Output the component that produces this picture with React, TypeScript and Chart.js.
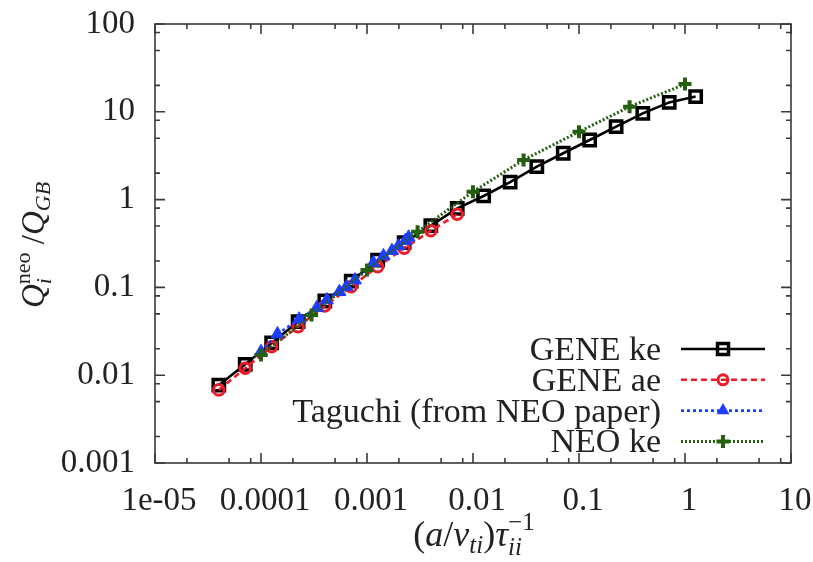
import React, { useEffect, useRef } from "react";
import { Chart, registerables } from "chart.js";
Chart.register(...registerables);

// ---- axis ticks ----
const X_MAJOR = [1e-5, 1e-4, 1e-3, 1e-2, 1e-1, 1, 10];
const X_TICK_LABELS = ["1e-05", "0.0001", "0.001", "0.01", "0.1", "1", "10"];
const Y_MAJOR = [1e-3, 1e-2, 1e-1, 1, 10, 100];
const Y_TICK_LABELS = ["0.001", "0.01", "0.1", "1", "10", "100"];
const MINOR_MULT = [2, 5, 8];

// ---- data ----
const geneKeX = [4e-5, 7.1e-5, 1.26e-4, 2.24e-4, 4e-4, 7.1e-4, 1.26e-3, 2.24e-3, 4e-3, 7.1e-3, 0.0126, 0.0224, 0.04, 0.071, 0.126, 0.224, 0.4, 0.71, 1.26];
const geneKeY = [0.0077, 0.0133, 0.0233, 0.0407, 0.07, 0.118, 0.204, 0.323, 0.505, 0.796, 1.1, 1.585, 2.37, 3.37, 4.77, 6.77, 9.6, 12.8, 14.9];

const geneAeX = [4e-5, 7.1e-5, 1.26e-4, 2.24e-4, 4e-4, 7.1e-4, 1.26e-3, 2.24e-3, 4e-3, 7.1e-3];
const geneAeY = [0.0068, 0.012, 0.0211, 0.0357, 0.0614, 0.102, 0.172, 0.279, 0.442, 0.68];

const taguchiX = [1e-4, 1.43e-4, 2.29e-4, 3.36e-4, 4.18e-4, 5.5e-4, 6.4e-4, 7.7e-4, 1.15e-3, 1.43e-3, 1.72e-3, 1.98e-3, 2.3e-3, 2.47e-3];
const taguchiY = [0.0185, 0.0295, 0.0434, 0.0587, 0.0718, 0.0893, 0.102, 0.121, 0.191, 0.228, 0.262, 0.296, 0.34, 0.372];

const neoKeX = [1e-4, 3e-4, 1e-3, 3e-3, 0.01, 0.03, 0.1, 0.3, 1];
const neoKeY = [0.017, 0.0485, 0.158, 0.431, 1.23, 2.83, 5.93, 11.4, 20.7];

const SERIES_LABELS = ["GENE ke", "GENE ae", "Taguchi (from NEO paper)", "NEO ke"];

const FONT = '"Liberation Serif", "Times New Roman", serif';
const BLACK = "#000000";
const RED = "#ec1c28";
const BLUE = "#1f3dff";
const GREEN = "#24600f";

const pts = (xs: number[], ys: number[]) => xs.map((x, i) => ({ x, y: ys[i] }));

type MItem = { t: string; it?: boolean; s: number; dy?: number; stack?: boolean };

function layoutMath(ctx: CanvasRenderingContext2D, items: MItem[]) {
  let x = 0;
  let prevStart = 0;
  let prevWidth = 0;
  const placed: (MItem & { x: number })[] = [];
  for (const it of items) {
    ctx.font = `${it.it ? "italic " : ""}${it.s}px ${FONT}`;
    const w = ctx.measureText(it.t).width;
    let start: number;
    if (it.stack) {
      start = prevStart;
      prevWidth = Math.max(prevWidth, w);
      x = prevStart + prevWidth;
    } else {
      start = x;
      x += w;
      prevStart = start;
      prevWidth = w;
    }
    placed.push({ ...it, x: start });
  }
  return { placed, width: x };
}

function drawMath(ctx: CanvasRenderingContext2D, items: MItem[], cx: number, baseline: number) {
  const { placed, width } = layoutMath(ctx, items);
  const x0 = cx - width / 2;
  ctx.fillStyle = "#222";
  ctx.textAlign = "left";
  ctx.textBaseline = "alphabetic";
  for (const p of placed) {
    ctx.font = `${p.it ? "italic " : ""}${p.s}px ${FONT}`;
    ctx.fillText(p.t, x0 + p.x, baseline + (p.dy || 0));
  }
}

function drawMarker(ctx: CanvasRenderingContext2D, style: string, x: number, y: number, color: string) {
  ctx.save();
  ctx.setLineDash([]);
  ctx.strokeStyle = color;
  ctx.fillStyle = color;
  if (style === "rect") {
    ctx.lineWidth = 3.5;
    ctx.strokeRect(x - 5.5, y - 5.5, 11, 11);
  } else if (style === "circle") {
    ctx.lineWidth = 3;
    ctx.beginPath();
    ctx.arc(x, y, 5, 0, Math.PI * 2);
    ctx.stroke();
  } else if (style === "triangle") {
    const r = 7.5;
    ctx.beginPath();
    ctx.moveTo(x, y - r);
    ctx.lineTo(x + r * 0.866, y + r * 0.5);
    ctx.lineTo(x - r * 0.866, y + r * 0.5);
    ctx.closePath();
    ctx.fill();
  } else if (style === "cross") {
    ctx.lineWidth = 4;
    ctx.beginPath();
    ctx.moveTo(x - 6.5, y);
    ctx.lineTo(x + 6.5, y);
    ctx.moveTo(x, y - 6.5);
    ctx.lineTo(x, y + 6.5);
    ctx.stroke();
  }
  ctx.restore();
}

const decoPlugin = {
  id: "deco",
  afterDraw(chart: any) {
    const ctx: CanvasRenderingContext2D = chart.ctx;
    const { left, right, top, bottom } = chart.chartArea;
    const xs = chart.scales.x;
    const ys = chart.scales.y;
    ctx.save();
    // frame
    ctx.strokeStyle = "#3a3a3a";
    ctx.lineWidth = 1.6;
    ctx.setLineDash([]);
    ctx.strokeRect(left, top, right - left, bottom - top);
    // ticks
    const tick = (isX: boolean, v: number, len: number) => {
      if (isX) {
        const p = xs.getPixelForValue(v);
        ctx.beginPath();
        ctx.moveTo(p, bottom);
        ctx.lineTo(p, bottom - len);
        ctx.moveTo(p, top);
        ctx.lineTo(p, top + len);
        ctx.stroke();
      } else {
        const p = ys.getPixelForValue(v);
        ctx.beginPath();
        ctx.moveTo(left, p);
        ctx.lineTo(left + len, p);
        ctx.moveTo(right, p);
        ctx.lineTo(right - len, p);
        ctx.stroke();
      }
    };
    X_MAJOR.forEach((v, i) => {
      tick(true, v, 10);
      if (i < X_MAJOR.length - 1) MINOR_MULT.forEach((m) => tick(true, v * m, 5));
    });
    Y_MAJOR.forEach((v, i) => {
      tick(false, v, 10);
      if (i < Y_MAJOR.length - 1) MINOR_MULT.forEach((m) => tick(false, v * m, 5));
    });

    // legend
    const rowY0 = 349;
    const rowStep = 30.8;
    chart.data.datasets.forEach((ds: any, i: number) => {
      const y = rowY0 + i * rowStep;
      ctx.font = `34px ${FONT}`;
      ctx.fillStyle = "#222";
      ctx.textAlign = "right";
      ctx.textBaseline = "middle";
      ctx.fillText(SERIES_LABELS[i], 661, y + 2);
      ctx.strokeStyle = ds.borderColor;
      ctx.lineWidth = ds.borderWidth;
      ctx.setLineDash(ds.borderDash || []);
      ctx.beginPath();
      ctx.moveTo(681, y);
      ctx.lineTo(765, y);
      ctx.stroke();
      drawMarker(ctx, ds.pointStyle, 723, y, ds.borderColor);
    });

    // x title
    ctx.setLineDash([]);
    drawMath(
      ctx,
      [
        { t: "(", s: 36 },
        { t: "a", it: true, s: 36 },
        { t: "/", s: 36 },
        { t: "v", it: true, s: 36 },
        { t: "ti", it: true, s: 25, dy: 7 },
        { t: ")", s: 36 },
        { t: "τ", it: true, s: 36 },
        { t: "−1", s: 25, dy: -16 },
        { t: "ii", it: true, s: 25, dy: 9, stack: true },
      ],
      474,
      546
    );
    // y title
    ctx.save();
    ctx.translate(44, 245);
    ctx.rotate(-Math.PI / 2);
    drawMath(
      ctx,
      [
        { t: "Q", it: true, s: 33 },
        { t: "neo", s: 22, dy: -14 },
        { t: "i", it: true, s: 22, dy: 7, stack: true },
        { t: " /", s: 33 },
        { t: "Q", it: true, s: 33 },
        { t: "GB", it: true, s: 22, dy: 6 },
      ],
      0,
      0
    );
    ctx.restore();
    ctx.restore();
  },
};

export default function App() {
  const ref = useRef<HTMLCanvasElement | null>(null);
  useEffect(() => {
    if (!ref.current) return;
    const chart = new Chart(ref.current, {
      type: "line",
      data: {
        datasets: [
          {
            label: SERIES_LABELS[0],
            data: pts(geneKeX, geneKeY),
            borderColor: BLACK,
            borderWidth: 2.6,
            pointStyle: "rect",
            pointRadius: 8,
            pointBorderWidth: 3.5,
            pointBackgroundColor: "rgba(0,0,0,0)",
            pointBorderColor: BLACK,
            order: 4,
          },
          {
            label: SERIES_LABELS[1],
            data: pts(geneAeX, geneAeY),
            borderColor: RED,
            borderWidth: 2.6,
            borderDash: [6, 4],
            pointStyle: "circle",
            pointRadius: 5.3,
            pointBorderWidth: 3,
            pointBackgroundColor: "rgba(0,0,0,0)",
            pointBorderColor: RED,
            order: 3,
          },
          {
            label: SERIES_LABELS[2],
            data: pts(taguchiX, taguchiY),
            borderColor: BLUE,
            borderWidth: 2.6,
            borderDash: [3, 3],
            pointStyle: "triangle",
            pointRadius: 7.5,
            pointBorderWidth: 1,
            pointBackgroundColor: BLUE,
            pointBorderColor: BLUE,
            order: 2,
          },
          {
            label: SERIES_LABELS[3],
            data: pts(neoKeX, neoKeY),
            borderColor: GREEN,
            borderWidth: 3,
            borderDash: [2, 2],
            pointStyle: "cross",
            pointRadius: 6.5,
            pointBorderWidth: 4,
            pointBackgroundColor: GREEN,
            pointBorderColor: GREEN,
            order: 1,
          },
        ],
      },
      options: {
        animation: false,
        responsive: false,
        maintainAspectRatio: false,
        parsing: false,
        layout: { padding: { left: 0, right: 22, top: 24, bottom: 0 } },
        plugins: { legend: { display: false }, tooltip: { enabled: false } },
        scales: {
          x: {
            type: "logarithmic",
            min: 1e-5,
            max: 10,
            grid: { display: false, drawTicks: false },
            border: { display: false },
            afterBuildTicks: (s: any) => {
              s.ticks = X_MAJOR.map((v) => ({ value: v }));
            },
            afterFit: (s: any) => {
              s.height = 99;
              s.paddingLeft = 0;
              s.paddingRight = 0;
            },
            ticks: {
              autoSkip: false,
              maxRotation: 0,
              padding: 19,
              labelOffset: 4,
              color: "#222",
              font: { family: FONT, size: 33 },
              callback: (_v: any, i: number) => X_TICK_LABELS[i],
            },
          },
          y: {
            type: "logarithmic",
            min: 1e-3,
            max: 100,
            grid: { display: false, drawTicks: false },
            border: { display: false },
            afterBuildTicks: (s: any) => {
              s.ticks = Y_MAJOR.map((v) => ({ value: v }));
            },
            afterFit: (s: any) => {
              s.width = 155;
              s.paddingTop = 0;
              s.paddingBottom = 0;
            },
            ticks: {
              autoSkip: false,
              padding: 20,
              color: "#222",
              font: { family: FONT, size: 33 },
              callback: (_v: any, i: number) => Y_TICK_LABELS[i],
            },
          },
        },
      } as any,
      plugins: [decoPlugin],
    });
    return () => chart.destroy();
  }, []);
  return (
    <div style={{ position: "absolute", left: 0, top: 0, width: 813, height: 562, background: "#fff" }}>
      <canvas ref={ref} width={813} height={562} />
    </div>
  );
}
